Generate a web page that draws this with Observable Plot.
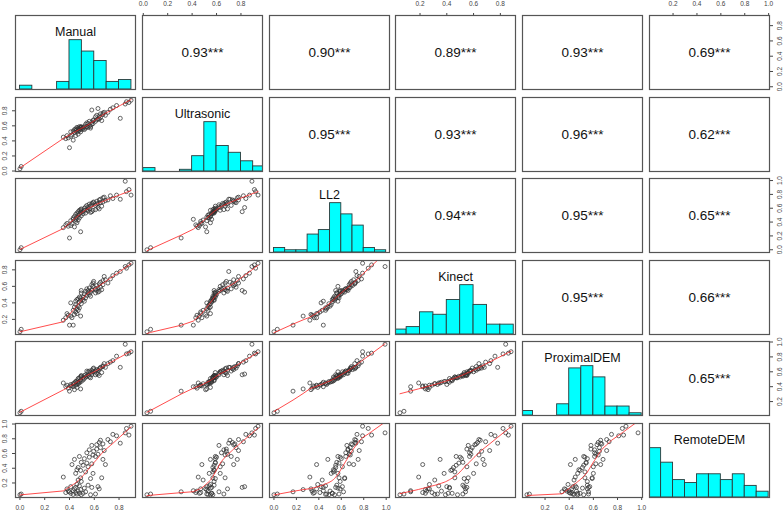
<!DOCTYPE html>
<html><head><meta charset="utf-8">
<script src="https://cdn.jsdelivr.net/npm/d3@7"></script>
<script src="https://cdn.jsdelivr.net/npm/@observablehq/plot@0.6"></script>
<style>
html,body{margin:0;padding:0;background:#fff;}
#chart{position:relative;width:784px;height:512px;overflow:hidden;font-family:'Liberation Sans',Arial,sans-serif;}
#chart svg{position:absolute;}
</style></head><body><div id="chart"></div>
<script>
// ---------- data (one value per observation, same order in every array) ----------
const names = ["Manual", "Ultrasonic", "LL2", "Kinect", "ProximalDEM", "RemoteDEM"];

const manual = [0.00,0.01, 0.35,0.37,0.38,0.39,
  0.40,0.41,0.41,0.42,0.43,0.43,0.44,0.44,0.45,0.45,0.45,0.46,0.46,0.46,0.47,0.47,0.47,0.48,0.48,0.48,0.49,0.49,0.49,0.495,0.495,0.495,
  0.51,0.51,0.52,0.52,0.53,0.53,0.54,0.54,0.55,0.55,0.56,0.56,0.57,0.57,0.58,0.58,0.58,0.59,0.59,0.595,
  0.61,0.61,0.62,0.62,0.63,0.63,0.64,0.64,0.65,0.65,0.66,0.67,0.67,0.68,0.69,
  0.71,0.73,0.75,0.78, 0.81,0.85,0.86,0.88,0.897];
const ultrasonic = [0.03,0.06, 0.45,0.43,0.47,0.44,
  0.31,0.46,0.52,0.48,0.41,0.53,0.51,0.55,0.47,0.54,0.56,0.52,0.58,0.55,0.53,0.57,0.49,0.56,0.59,0.54,0.52,0.58,0.57,0.55,0.59,0.58,
  0.56,0.58,0.55,0.59,0.57,0.62,0.59,0.64,0.58,0.63,0.60,0.66,0.59,0.57,0.65,0.62,0.81,0.67,0.63,0.68,
  0.66,0.72,0.68,0.74,0.83,0.69,0.73,0.69,0.76,0.71,0.67,0.77,0.75,0.78,0.74,
  0.78,0.82,0.84,0.87, 0.70,0.89,0.92,0.91,0.94];
const ll2 = [0.00,0.03, 0.32,0.36,0.38,0.34,
  0.17,0.35,0.42,0.38,0.44,0.46,0.33,0.48,0.41,0.51,0.44,0.47,0.53,0.39,0.50,0.55,0.43,0.52,0.57,0.46,0.26,0.54,0.58,0.49,0.56,0.59,
  0.52,0.55,0.57,0.60,0.53,0.62,0.58,0.64,0.56,0.61,0.59,0.66,0.63,0.54,0.67,0.65,0.55,0.68,0.57,0.69,
  0.58,0.64,0.66,0.70,0.61,0.67,0.72,0.59,0.68,0.73,0.63,0.75,0.69,0.76,0.71,
  0.72,0.78,0.74,0.79, 0.73,0.99,0.84,0.87,0.79];
const kinect = [0.05,0.08, 0.19,0.22,0.27,0.25,
  0.13,0.24,0.40,0.22,0.13,0.31,0.26,0.35,0.29,0.38,0.42,0.33,0.44,0.27,0.36,0.45,0.31,0.41,0.47,0.34,0.24,0.43,0.46,0.39,0.52,0.55,
  0.44,0.47,0.42,0.51,0.46,0.54,0.49,0.57,0.52,0.55,0.50,0.58,0.53,0.48,0.62,0.56,0.55,0.64,0.60,0.66,
  0.52,0.57,0.55,0.61,0.53,0.58,0.63,0.54,0.59,0.65,0.56,0.67,0.62,0.72,0.68,
  0.64,0.69,0.73,0.76, 0.78,0.84,0.82,0.86,0.88];
const proximalDEM = [0.05,0.07, 0.45,0.40,0.42,0.38,
  0.34,0.41,0.43,0.41,0.40,0.44,0.36,0.45,0.42,0.47,0.46,0.43,0.48,0.39,0.46,0.51,0.44,0.47,0.52,0.45,0.37,0.49,0.53,0.47,0.54,0.55,
  0.49,0.52,0.51,0.55,0.53,0.56,0.54,0.61,0.55,0.60,0.53,0.61,0.59,0.52,0.62,0.58,0.56,0.64,0.60,0.65,
  0.56,0.61,0.58,0.63,0.57,0.62,0.64,0.55,0.65,0.66,0.59,0.68,0.67,0.71,0.66,
  0.71,0.73,0.75,0.81, 0.66,0.97,0.84,0.85,0.87];
const remoteDEM = [0.04,0.05, 0.28,0.07,0.12,0.09,
  0.08,0.06,0.15,0.45,0.095,0.045,0.12,0.52,0.07,0.33,0.14,0.05,0.38,0.18,0.09,0.41,0.24,0.06,0.56,0.16,0.11,0.37,0.27,0.04,0.48,0.22,
  0.06,0.44,0.13,0.53,0.35,0.08,0.47,0.61,0.17,0.42,0.55,0.65,0.26,0.04,0.46,0.71,0.14,0.58,0.33,0.63,
  0.05,0.56,0.66,0.72,0.15,0.59,0.75,0.12,0.68,0.78,0.27,0.52,0.73,0.64,0.45,
  0.79,0.76,0.86,0.84, 0.74,0.88,0.94,0.85,0.97];

// Pearson r printed in the upper panels (row by row)
const corrValues = [0.93, 0.90, 0.89, 0.93, 0.69,
                    0.95, 0.93, 0.96, 0.62,
                    0.94, 0.95, 0.65,
                    0.95, 0.66,
                    0.65];
const stars = "***";

// axis tick labels per variable
const tickValues = [
  [0.0, 0.2, 0.4, 0.6, 0.8],
  [0.0, 0.2, 0.4, 0.6, 0.8],
  [0.0, 0.2, 0.4, 0.6, 0.8, 1.0],
  [0.2, 0.4, 0.6, 0.8],
  [0.2, 0.4, 0.6, 0.8, 1.0],
  [0.2, 0.4, 0.6, 0.8, 1.0]
];
const histBreaks = [0.1, 0.2, 0.3, 0.4, 0.5, 0.6, 0.7, 0.8, 0.9];

// ---------- helpers ----------
const vars = [manual, ultrasonic, ll2, kinect, proximalDEM, remoteDEM];
const n = manual.length;

function padded(v) {
  const [a, b] = d3.extent(v);
  const p = (b - a) * 0.04;
  return [a - p, b + p];
}

// R's lowess (clowess), f = 2/3, iter = 3
function lowess(xIn, yIn, f = 2 / 3, iter = 3) {
  const N = xIn.length;
  const order = d3.range(N).sort((a, b) => xIn[a] - xIn[b] || a - b);
  const x = order.map(i => xIn[i]), y = order.map(i => yIn[i]);
  const ns = Math.max(2, Math.min(N, Math.floor(f * N + 1e-7)));
  const ys = new Array(N).fill(0), rw = new Array(N).fill(1), res = new Array(N).fill(0), w = new Array(N).fill(0);
  const range = x[N - 1] - x[0];
  function lowest(xs, nleft, nright, userw) {
    const h = Math.max(xs - x[nleft], x[nright] - xs);
    const h9 = 0.999 * h, h1 = 0.001 * h;
    let a = 0, j = nleft;
    while (j < N) {
      w[j] = 0;
      const r = Math.abs(x[j] - xs);
      if (r <= h9) {
        w[j] = r <= h1 ? 1 : Math.pow(1 - Math.pow(r / h, 3), 3);
        if (userw) w[j] *= rw[j];
        a += w[j];
      } else if (x[j] > xs) break;
      j++;
    }
    const nrt = j - 1;
    if (a <= 0) return null;
    for (let k = nleft; k <= nrt; k++) w[k] /= a;
    if (h > 0) {
      a = 0;
      for (let k = nleft; k <= nrt; k++) a += w[k] * x[k];
      let b = xs - a, c = 0;
      for (let k = nleft; k <= nrt; k++) c += w[k] * (x[k] - a) * (x[k] - a);
      if (Math.sqrt(c) > 0.001 * range) {
        b /= c;
        for (let k = nleft; k <= nrt; k++) w[k] *= b * (x[k] - a) + 1;
      }
    }
    let s = 0;
    for (let k = nleft; k <= nrt; k++) s += w[k] * y[k];
    return s;
  }
  for (let it = 1; it <= iter + 1; it++) {
    let nleft = 0, nright = ns - 1;
    for (let i = 0; i < N; i++) {
      while (nright < N - 1) {
        const d1 = x[i] - x[nleft], d2 = x[nright + 1] - x[i];
        if (d1 <= d2) break;
        nleft++; nright++;
      }
      const v = lowest(x[i], nleft, nright, it > 1);
      ys[i] = v === null ? y[i] : v;
    }
    if (it > iter) break;
    for (let i = 0; i < N; i++) res[i] = y[i] - ys[i];
    const absr = res.map(Math.abs).sort((a, b) => a - b);
    const m1 = Math.floor(N / 2);
    const cmad = N % 2 === 0 ? 3 * (absr[m1 - 1] + absr[m1]) : 6 * absr[m1];
    const sc = d3.mean(res.map(Math.abs));
    if (cmad < 1e-7 * sc) break;
    const c9 = 0.999 * cmad, c1 = 0.001 * cmad;
    for (let i = 0; i < N; i++) {
      const r = Math.abs(res[i]);
      rw[i] = r <= c1 ? 1 : r <= c9 ? Math.pow(1 - Math.pow(r / cmad, 2), 2) : 0;
    }
  }
  return x.map((xv, i) => ({x: xv, y: ys[i]}));
}

// ---------- layout ----------
const W = 120, H = 74, MG = 24;
const colX = [15, 142, 269, 395, 522, 649];
const rowY = [15, 97, 178, 260, 341, 423];
const fmt = d3.format(".1f");
const axisStyle = {tickSize: 3, fontSize: 6.5, color: "#444", label: null, tickFormat: fmt};

const chart = document.getElementById("chart");
let ci = 0;
const corrText = [];
for (let r = 0; r < 6; r++) for (let c = r + 1; c < 6; c++) corrText.push({r, c, t: d3.format(".2f")(corrValues[ci++]) + stars});

for (let r = 0; r < 6; r++) {
  for (let c = 0; c < 6; c++) {
    const xd = padded(vars[c]);
    let yd = padded(vars[r]);
    const marks = [];
    if (r === c) {
      const bins = d3.bin().domain([0, 1]).thresholds(histBreaks)(vars[c]);
      const maxc = d3.max(bins, b => b.length);
      yd = [0, maxc * 1.5];
      marks.push(Plot.rectY(bins.filter(b => b.length > 0), {
        x1: "x0", x2: "x1", y: b => b.length, fill: "#00FFFF", stroke: "#2a3a3a", strokeWidth: 0.9, clip: true
      }));
      marks.push(Plot.text([names[c]], {text: d => d, frameAnchor: "top", dy: 12, fontSize: 12.5, fill: "#111"}));
    } else if (r > c) {
      const pts = d3.range(n).map(i => ({x: vars[c][i], y: vars[r][i]}));
      marks.push(Plot.dot(pts, {x: "x", y: "y", r: 2, stroke: "#333", strokeWidth: 0.75, fill: "none"}));
      marks.push(Plot.line(lowess(vars[c], vars[r]), {x: "x", y: "y", stroke: "#ff2020", strokeWidth: 0.8, clip: true}));
    } else {
      const ct = corrText.find(d => d.r === r && d.c === c);
      marks.push(Plot.text([ct.t], {text: d => d, frameAnchor: "middle", fontSize: 13.5, fill: "#111"}));
    }
    if (r === 0 && c % 2 === 1) marks.push(Plot.axisX({...axisStyle, anchor: "top", ticks: tickValues[c], tickPadding: 7}));
    if (r === 5 && c % 2 === 0) marks.push(Plot.axisX({...axisStyle, anchor: "bottom", ticks: tickValues[c], tickPadding: 5}));
    if (c === 0 && r % 2 === 1) marks.push(Plot.axisY({...axisStyle, anchor: "left", ticks: tickValues[r], tickRotate: -90, tickPadding: 6}));
    if (c === 5 && r % 2 === 0) marks.push(Plot.axisY({...axisStyle, anchor: "right", ticks: tickValues[r], tickRotate: -90, tickPadding: 9}));
    marks.push(Plot.frame({stroke: "#555", strokeWidth: 1.2}));

    const svg = Plot.plot({
      width: W + 2 * MG, height: H + 2 * MG, margin: MG,
      style: {background: "transparent", overflow: "visible", fontFamily: "'Liberation Sans', Arial, sans-serif"},
      x: {domain: xd, axis: null},
      y: {domain: yd, axis: null},
      marks
    });
    svg.style.left = (colX[c] - MG) + "px";
    svg.style.top = (rowY[r] - MG) + "px";
    chart.appendChild(svg);
  }
}
</script></body></html>
